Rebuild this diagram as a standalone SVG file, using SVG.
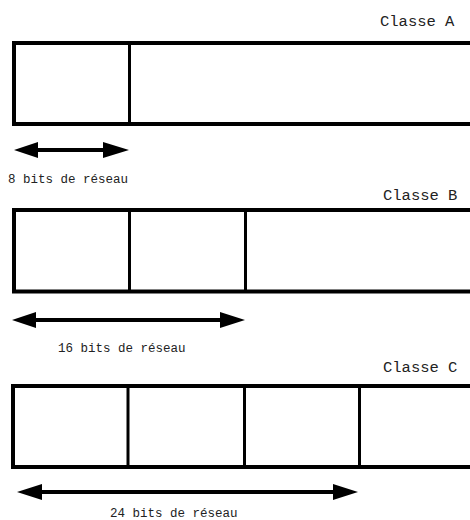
<svg xmlns="http://www.w3.org/2000/svg" width="470" height="520" viewBox="0 0 470 520">
<style>
.box{fill:none;stroke:#000;stroke-width:4}
.div{stroke:#000;stroke-width:3}
.arr{stroke:#000;stroke-width:4}
.head{fill:#000}
.cls{font-family:"Liberation Mono",monospace;font-size:15.5px;fill:#222}
.lbl{font-family:"Liberation Mono",monospace;font-size:12.5px;fill:#222}
</style>
<rect width="470" height="520" fill="#fff"/>
<g id="classA">
<text class="cls" x="380" y="26">Classe A</text>
<rect class="box" x="14" y="43" width="470" height="81"/>
<line class="div" x1="129.5" y1="43" x2="129.5" y2="124"/>
</g>
<g id="classB">
<text class="cls" x="383" y="200">Classe B</text>
<rect class="box" x="14" y="210" width="470" height="81.5"/>
<line class="div" x1="129.5" y1="210" x2="129.5" y2="291.5"/>
<line class="div" x1="245.5" y1="210" x2="245.5" y2="291.5"/>
</g>
<g id="classC">
<text class="cls" x="383" y="372">Classe C</text>
<rect class="box" x="13" y="386" width="470" height="81"/>
<line class="div" x1="128" y1="386" x2="128" y2="467"/>
<line class="div" x1="244.5" y1="386" x2="244.5" y2="467"/>
<line class="div" x1="359.5" y1="386" x2="359.5" y2="467"/>
</g>
<g id="connectors">
<g id="arrowA">
<line class="arr" x1="30" y1="150" x2="112" y2="150"/>
<polygon class="head" points="14,150 38,142 38,158"/>
<polygon class="head" points="129,150 103,142 103,158"/>
</g>
<g id="arrowB">
<line class="arr" x1="28" y1="320" x2="228" y2="320"/>
<polygon class="head" points="12,320 36,312 36,328"/>
<polygon class="head" points="245,320 220,312 220,328"/>
</g>
<g id="arrowC">
<line class="arr" x1="32" y1="492" x2="342" y2="492"/>
<polygon class="head" points="17,492 42,484 42,500"/>
<polygon class="head" points="358,492 333,484 333,500"/>
</g>
</g>
<text class="lbl" x="8" y="183">8 bits de réseau</text>
<text class="lbl" x="58" y="352">16 bits de réseau</text>
<text class="lbl" x="110" y="517">24 bits de réseau</text>
</svg>
